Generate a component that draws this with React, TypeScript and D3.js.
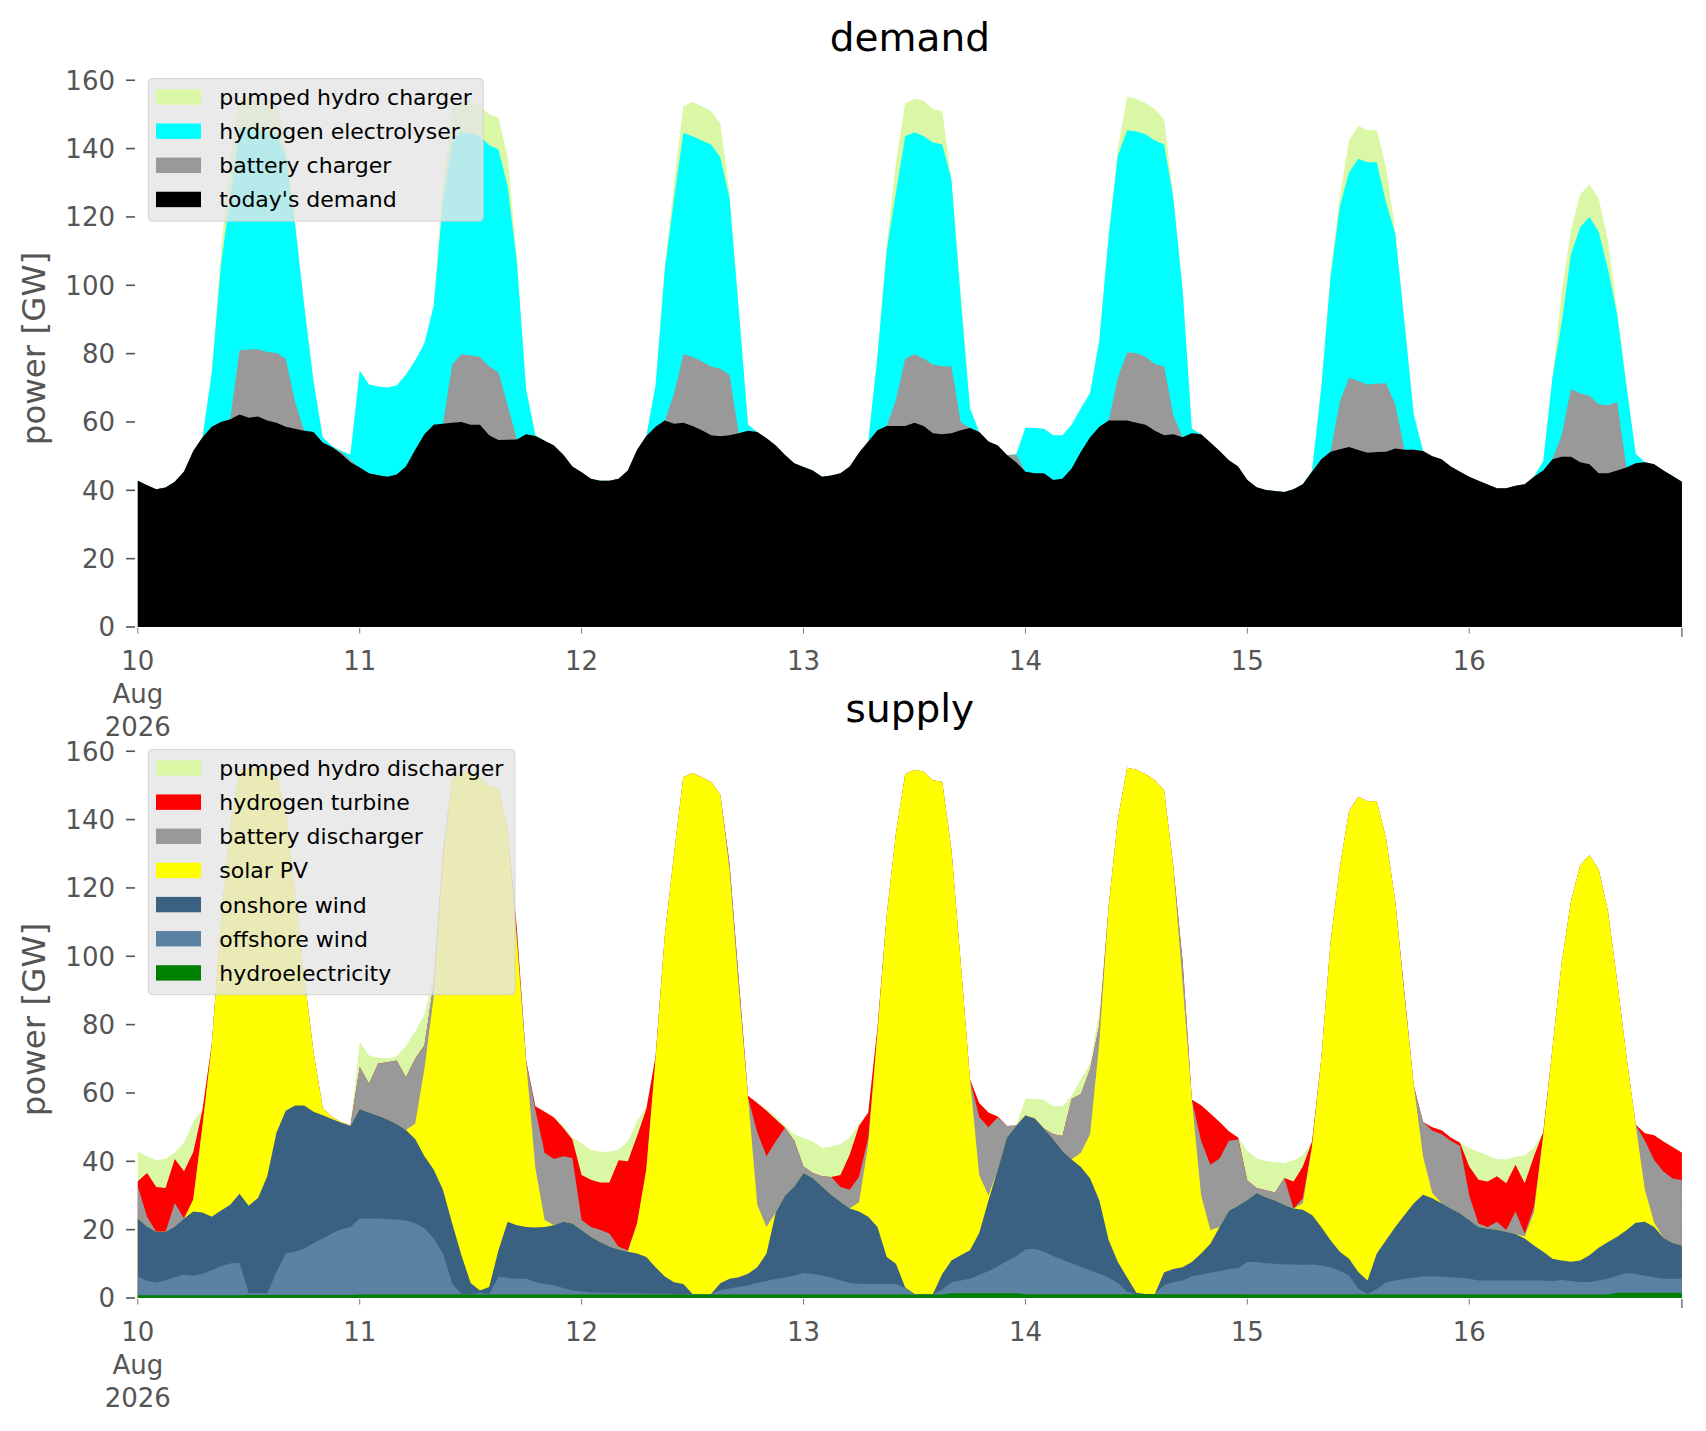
import * as d3 from "d3";

// Hourly values, 10 Aug 2026 00:00 .. 16 Aug 2026 23:00, in GW (one row per day)
const start = new Date(Date.UTC(2026, 7, 10));
const times = d3.utcHour.range(start, d3.utcHour.offset(start, 168));

const yTicks = [0, 20, 40, 60, 80, 100, 120, 140, 160];

// ---- demand side ----
const todaysDemand = [
  42.8, 41.5, 40.3, 40.8, 42.5, 45.5, 51.5, 55.5, 58.6, 60, 60.8, 62.2, 61.2, 61.6, 60.4, 59.8, 58.6, 58, 57.4, 57.1, 54, 52.7, 50.7, 48.2,
  46.7, 45, 44.4, 44, 44.6, 47, 51.9, 56.4, 59.2, 59.5, 59.8, 60, 59.2, 59.2, 56.1, 54.7, 54.8, 54.9, 56.4, 55.9, 54.5, 53.1, 50.5, 47,
  45.3, 43.4, 42.8, 42.8, 43.4, 45.8, 51.9, 55.9, 58.6, 60.4, 59.5, 59.8, 58.8, 57.6, 56.1, 55.8, 56.1, 56.7, 57.4, 57.1, 55.2, 53.1, 50.3, 47.9,
  46.8, 45.8, 44, 44.3, 45, 47, 51, 54.3, 57.6, 58.8, 58.8, 58.8, 59.8, 58.8, 56.7, 56.4, 56.7, 57.6, 58.2, 57.1, 54.3, 53.1, 50.3, 48.2,
  45.4, 45, 45, 43, 43.4, 46.4, 51.3, 55.5, 58.6, 60.4, 60.4, 60.4, 59.8, 59.2, 57.4, 56.1, 56.4, 55.5, 56.7, 56.4, 54, 51.5, 48.8, 47,
  43, 40.9, 40.1, 39.8, 39.5, 40.3, 41.8, 45.4, 49.1, 51.3, 52, 52.7, 51.8, 51, 51.2, 51.3, 52.2, 51.9, 51.9, 51.5, 50, 49.1, 47, 45.4,
  44, 42.8, 41.7, 40.6, 40.6, 41.3, 41.8, 44, 45.8, 49.1, 49.8, 49.8, 48.2, 47.6, 45, 45, 45.8, 46.7, 47.9, 48.2, 47.6, 45.8, 44.2, 42.5,
];

const batteryCharger = [
  0, 0, 0, 0, 0, 0, 0, 0, 0, 0, 0, 18.8, 20, 19.7, 20.1, 20.4, 20, 8, 0, 0, 0, 0, 0.5, 0.6,
  0, 0, 0, 0, 0, 0, 0, 0, 0, 0, 17, 19.8, 20.3, 19.8, 20.1, 19.9, 10.2, 0, 0, 0, 0, 0, 0, 0,
  0, 0, 0, 0, 0, 0, 0, 0, 0, 0, 8.8, 20, 20.2, 20.2, 20.1, 19.8, 17.7, 0, 0, 0, 0, 0, 0, 0,
  0, 0, 0, 0, 0, 0, 0, 0, 0, 0, 7.7, 19.8, 20, 19.8, 20.1, 19.9, 19.5, 2.4, 0, 0, 0, 0, 0, 2.3,
  0, 0, 0, 0, 0, 0, 0, 0, 0, 0, 12.6, 19.9, 20.4, 19.8, 19.6, 20.1, 5.6, 0, 0, 0, 0, 0, 0, 0,
  0, 0, 0, 0, 0, 0, 0, 0, 0, 0, 13.9, 20.2, 20.2, 20, 20, 20, 13, 0, 0, 0, 0, 0, 0, 0,
  0, 0, 0, 0, 0, 0, 0, 0, 0, 0, 6.3, 19.9, 20.1, 20.1, 20.2, 19.9, 20.1, 0, 0, 0, 0, 0, 0, 0,
];

const hydrogenElectrolyser = [
  0, 0, 0, 0, 0, 0, 0, 0, 15.8, 46, 65.2, 65, 64.8, 64.2, 64.5, 63.8, 59.4, 52, 36.6, 14.9, 1.5, 0.3, 0.3, 1.7,
  28.3, 26, 26, 26.1, 26.1, 26.8, 26.1, 26.6, 34.8, 65, 65, 65.2, 65, 64.6, 64.8, 65.1, 64, 51.7, 13.1, 0.2, 0, 0, 0, 0,
  0, 0, 0, 0, 0, 0, 0, 0, 12.1, 44.3, 57.1, 64.8, 64.6, 64.6, 65, 61.9, 51.6, 35.9, 1.8, 0, 0, 0, 0, 0,
  0, 0, 0, 0, 0, 0, 0, 0, 21.6, 51.4, 60.7, 65, 65, 65, 65, 64.9, 54.7, 36, 5.8, 0, 0, 0, 0, 0,
  12.9, 13.2, 13, 13.1, 12.7, 12.8, 12.7, 13, 25.4, 54.1, 65, 65.1, 64.8, 65.2, 65.4, 65, 63.4, 43.2, 1.3, 0, 0, 0, 0, 0,
  0, 0, 0, 0, 0, 0, 0, 0.4, 20.9, 51, 57.1, 60.1, 65, 65, 64.8, 52.9, 49.8, 37.1, 10.3, 0, 0, 0, 0, 0,
  0, 0, 0, 0, 0, 0, 0, 0, 2.7, 23.9, 32.9, 39.3, 48.7, 52.3, 50.5, 39.8, 25.5, 24, 2.8, 0, 0, 0, 0, 0,
];

const pumpedHydroCharger = [
  0, 0, 0, 0, 0, 0, 0, 0, 0, 4, 12, 8.5, 9, 9.5, 9.5, 9, 4, 1, 0, 0, 0, 0, 0, 0,
  0, 0, 0, 0, 0, 0, 0, 0, 0, 5.5, 10.2, 9, 9.5, 8.9, 9, 9.3, 8.5, 1.4, 0, 0, 0, 0, 0, 0,
  0, 0, 0, 0, 0, 0, 0, 0, 0, 1.3, 4.6, 7.8, 10, 10, 9.8, 9.8, 1.6, 0.4, 0, 0, 0, 0, 0, 0,
  0, 0, 0, 0, 0, 0, 0, 0, 0, 1.8, 8.8, 9.7, 9.8, 10.4, 9.7, 9.8, 0.1, 2, 0, 0, 0, 0, 0, 0,
  0, 0, 0, 0, 0, 0, 0, 0, 0, 0, 2, 9.8, 9.6, 9.1, 9.1, 7.3, 0.6, 0, 0, 0, 0, 0, 0, 0,
  0, 0, 0, 0, 0, 0, 0, 0, 0, 1.7, 3, 9.4, 9.7, 9.4, 9.4, 10.3, 1, 0, 0, 0, 0, 0, 0, 0,
  0, 0, 0, 0, 0, 0, 0, 0, 0, 0, 9, 7, 9.6, 9.6, 9.7, 8.5, 1.2, 0, 0, 0, 0, 0, 0, 0,
];

// ---- supply side ----
const hydroelectricity = [
  0.8, 0.8, 0.8, 0.8, 0.8, 0.8, 0.8, 0.8, 0.8, 0.8, 0.8, 0.8, 0.9, 0.9, 0.9, 0.9, 0.9, 0.9, 0.9, 0.9, 0.9, 0.9, 0.9, 0.9,
  1, 1, 1, 1, 1, 1, 1, 1, 1, 1, 1, 1, 1, 1, 1, 1, 1, 1, 1, 1, 1, 1, 1, 1,
  1, 1, 1, 1, 1, 1, 1, 1, 1, 1, 1, 1, 1, 1, 1, 1, 1, 1, 1, 1, 1, 1, 1, 1,
  1, 1, 1, 1, 1, 1, 1, 1, 1, 1, 1, 1, 1, 1, 1, 1, 1.4, 1.4, 1.4, 1.4, 1.4, 1.4, 1.4, 1.4,
  1.1, 1.1, 1.1, 1.1, 1.1, 1.1, 1.1, 1.1, 1.1, 1.1, 1.1, 1.1, 1.1, 1.1, 1.1, 1.1, 1.1, 1.1, 1.1, 1.1, 1.1, 1.1, 1.1, 1.1,
  1, 1, 1, 1, 1, 1, 1, 1, 1, 1, 1, 1, 1, 1, 1, 1, 1, 1, 1, 1, 1, 1, 1, 1,
  1, 1, 1, 1, 1, 1, 1, 1, 1, 1, 1, 1, 1, 1, 1, 1, 1.5, 1.5, 1.5, 1.5, 1.5, 1.5, 1.5, 1.5,
];

const offshoreWind = [
  5.6, 4.2, 3.7, 4.4, 5.3, 6.1, 5.8, 6.3, 7.3, 8.5, 9.3, 9.5, 0.5, 0.5, 0.5, 6.7, 12.1, 12.6, 13.6, 15.1, 16.5, 18, 19.2, 19.8,
  22.3, 22.3, 22.3, 22.1, 22, 21.7, 20.9, 19.4, 16.4, 12, 3.2, 0.2, 0.2, 0.5, 0.2, 5.2, 4.9, 4.6, 4.6, 3.7, 3.1, 2.7, 1.9, 1.2,
  0.9, 0.6, 0.5, 0.5, 0.4, 0.4, 0.4, 0.3, 0.3, 0.3, 0.2, 0.2, 0.2, 0.2, 0.2, 1.2, 1.8, 2.3, 2.7, 3.4, 4, 4.6, 4.9, 5.6,
  6.3, 6, 5.6, 5, 4.2, 3.4, 3.2, 3.1, 3.1, 3.1, 3.1, 1.9, 0.2, 0.2, 0.2, 1.5, 3.2, 3.7, 4.2, 5.4, 6.4, 7.8, 9.4, 10.8,
  13.2, 13.3, 12.4, 11.2, 10.1, 9.1, 8, 7, 6, 4.8, 3.3, 0.7, 0.1, 0.1, 0.1, 2.7, 3.5, 4, 5.3, 5.8, 6.3, 6.8, 7.4, 7.6,
  9.5, 9.5, 9.2, 9, 8.8, 8.8, 8.7, 8.8, 8.5, 8, 7, 5.6, 1.6, 0.2, 1.6, 3.6, 4.1, 4.6, 4.9, 5.3, 5.3, 5.3, 5.1, 4.9,
  4.6, 4.1, 4.1, 4.1, 4.1, 4.1, 4.1, 4.1, 4.1, 4, 4.3, 4, 3.7, 3.7, 4.2, 4.6, 5, 5.8, 5.5, 5, 4.5, 4.1, 4.1, 4.1,
];

const onshoreWind = [
  16.9, 15.9, 14.9, 14.2, 14.8, 16.4, 18.7, 17.9, 15.7, 16.3, 17.2, 20.2, 25.6, 27.9, 34.2, 40.8, 41.8, 42.8, 41.8, 38.5, 36.1, 33.5, 31.2, 29.6,
  32, 31, 30, 29.1, 27.9, 26.5, 24.6, 21.1, 20.2, 18.7, 17.7, 11.3, 3.2, 0.7, 2, 7.7, 16.4, 15.7, 15.2, 15.9, 16.7, 17.6, 19.4, 19.6,
  18, 16.3, 14.9, 13.6, 12.8, 12.1, 11.6, 10.7, 7.7, 5, 3.4, 2.9, 0, 0, 0, 2.1, 2.8, 2.8, 3.4, 4.6, 8, 19.4, 24.1, 26,
  29.3, 28.1, 26, 24.2, 23, 21.8, 21.1, 19.7, 16.7, 7.9, 5.9, 0.2, 0, 0, 0, 4.5, 6.4, 7.4, 8.4, 12.2, 20.7, 28.3, 36.2, 38.1,
  39.1, 38.1, 36.1, 34.2, 31.8, 30.3, 29.2, 26.9, 21.4, 11.1, 6.1, 4.2, 0.3, 0, 0, 3.7, 3.9, 3.9, 4.1, 6.1, 8.5, 12.9, 17, 18.3,
  18.2, 20.2, 19.3, 18.5, 17.4, 16.4, 16.1, 14.5, 11.3, 7.9, 5.5, 4.9, 5, 3.9, 10.4, 12.3, 15.7, 18.7, 21.8, 23.9, 22.9, 21.4, 20.1, 18.9,
  17.2, 15.7, 15.2, 14.9, 14.3, 13.6, 12.3, 10.3, 8.4, 6.5, 5.7, 5.6, 6.3, 7.8, 9.5, 10.8, 11.4, 12.5, 15, 15.8, 14.8, 12, 10.5, 9.8,
];

const solarPV = [
  0, 0, 0, 0, 0, 0, 3.5, 25.4, 50.2, 84.4, 110.7, 124, 128, 125.7, 118.9, 104.6, 87.2, 62.7, 37.7, 17.5, 2, 0.6, 0.2, 0,
  0, 0, 0, 0, 0, 0, 4.5, 25.5, 50.4, 96.3, 130.1, 141.5, 149.6, 150.3, 146.8, 135.1, 115.2, 82.7, 48.2, 17.4, 2, 0, 0, 0,
  0, 0, 0, 0, 0, 0, 8.8, 25.6, 61, 99.7, 125.4, 148.3, 152.4, 151.2, 149.8, 143, 119.4, 83.9, 51.6, 18.2, 7.8, 0, 0, 0,
  0, 0, 0, 0, 0, 0, 2.7, 21.2, 57, 100, 126, 150.2, 153.4, 152.8, 150.3, 144, 120, 85.5, 50, 17, 1.5, 0, 0, 0,
  0, 0, 0, 0, 0, 0, 4.2, 13, 46.5, 97.5, 129.5, 149.2, 153.1, 152.1, 150.3, 141, 117.5, 83, 47.5, 17, 4, 0, 0, 0,
  0, 0, 0, 0, 0, 0, 1.9, 20.1, 49.2, 87.1, 112.5, 130.9, 139.1, 140.3, 132.4, 117.6, 95.2, 63.7, 34.5, 11.3, 1.5, 0, 0, 0,
  0, 0, 0, 0, 0, 0, 0.6, 9.6, 33.9, 61.5, 87, 105.4, 115.6, 117.1, 110.7, 96.8, 74.7, 50.9, 28.7, 9.3, 1.2, 0, 0, 0,
];

const batteryDischarger = [
  9.4, 2.9, 0, 0, 6.9, 0, 0, 0, 0, 0, 0, 0, 0, 0, 0, 0, 0, 0, 0, 0, 0, 0, 0, 0.2,
  12.3, 8.4, 15.3, 16.8, 18.6, 15.4, 19, 7, 4, 2, 0, 0, 0, 0, 0, 0, 0, 2, 0.5, 17, 19.7, 19.4, 19.2, 19.2,
  2.9, 2.9, 3.6, 3.8, 0.8, 0.5, 0, 0, 0, 0, 0, 0, 0, 0, 0, 0, 2, 3, 0, 21.2, 20.7, 20.9, 19.8, 13.4,
  1.9, 1.5, 3, 5.2, 4.3, 5.5, 7.5, 2, 0, 0, 0, 0, 0, 0, 0, 0, 0, 0, 0, 17, 20, 15.3, 3.3, 0.2,
  0, 0, 0, 1.5, 4.4, 17.7, 17.2, 19, 5, 0, 0, 0, 0, 0, 0, 0, 0, 6.7, 0, 16, 19.1, 20, 20.5, 19.4,
  5.7, 1.5, 2, 2.4, 7.9, 0, 1.5, 0, 0, 0, 0, 0, 0, 0, 0, 0, 0, 1, 0, 10, 18.3, 20.3, 19.8, 19.7,
  7.2, 1, 0.5, 2.3, 0.5, 6.6, 0.9, 1.7, 0, 0, 0, 0, 0, 0, 0, 0, 0, 0, 0, 14.4, 18.4, 19.4, 18.9, 19.1,
];

const hydrogenTurbine = [
  1.5, 12.8, 13.1, 12.8, 12.9, 13.8, 13.9, 4.6, 0.4, 0, 0, 0, 0, 0, 0, 0, 0, 0, 0, 0, 0, 0, 0, 0,
  0, 0, 0, 0, 0, 0, 0, 0, 0, 0, 0, 0, 0, 0, 0, 0, 0, 2, 0, 1.1, 12, 12.1, 8.3, 5.4,
  13.2, 13.8, 13.8, 14.9, 25.3, 26, 25.6, 17.7, 0.7, 0, 0, 0, 0, 0, 0, 0, 0, 0, 0.5, 8.7, 13.3, 6.4, 0, 0,
  0, 0, 0, 0, 3.5, 10.3, 14.8, 7.3, 1.4, 0, 0, 0, 0, 0, 0, 0, 0, 0, 0, 4.1, 4.3, 0.3, 0, 0,
  0, 0, 0, 0, 0, 0, 0, 0, 0, 0, 0, 0, 0, 0, 0, 0, 0, 0, 0, 10.4, 15, 10.7, 2.8, 0.6,
  0, 0, 0, 0, 0, 7.9, 9.3, 1.4, 0, 0, 0, 0, 0, 0, 0, 0, 0, 0, 0, 0, 1, 1.1, 1, 0.9,
  8.5, 12.8, 13.3, 13.3, 13.7, 13.7, 14.7, 14.8, 1.1, 0, 0, 0, 0, 0, 0, 0, 0, 0, 0, 2.2, 7.2, 8.8, 9.2, 8,
];

const pumpedHydroDischarger = [
  8.6, 4.9, 7.8, 8.6, 1.8, 8.4, 8.8, 0.5, 0, 0, 0, 0, 0, 0, 0, 0, 0, 0, 0, 0, 0, 0, 0, 0,
  7.4, 8.3, 1.8, 1.1, 1.2, 9.2, 8, 9, 2, 0, 0, 0, 0, 0, 0, 0, 0, 0, 0, 0, 0, 0.3, 0.7, 0.6,
  9.3, 8.8, 9, 9, 3.1, 5.8, 4.5, 0.6, 0, 0, 0, 0, 0, 0, 0, 0, 0, 0, 0, 0, 0.4, 0.8, 0.5, 1.9,
  8.3, 9.2, 8.4, 8.9, 9, 5, 0.7, 0, 0, 0, 0, 0, 0, 0, 0, 0, 0, 0, 0, 0, 0, 0, 0, 0,
  4.9, 5.7, 8.4, 8.1, 8.7, 1, 4.3, 1.5, 4, 0, 0, 0, 0, 0, 0, 0, 0, 0, 0, 0, 0, 0, 0, 0,
  8.6, 8.7, 8.6, 8.9, 4.4, 6.2, 3.3, 0, 0, 0, 0, 0, 0, 0, 0, 0, 0, 0, 0, 0, 0, 0, 0, 0,
  5.5, 8.2, 7.6, 5, 7, 2.3, 8.2, 2.5, 0, 0, 0, 0, 0, 0, 0, 0, 0, 0, 0, 0, 0, 0, 0, 0,
];

type Layer = { key: string; label: string; color: string; values: number[] };

// stacking order: bottom first
const demandLayers: Layer[] = [
  { key: "demand", label: "today's demand", color: "#000000", values: todaysDemand },
  { key: "battery", label: "battery charger", color: "#999999", values: batteryCharger },
  { key: "electrolyser", label: "hydrogen electrolyser", color: "#00ffff", values: hydrogenElectrolyser },
  { key: "pumped", label: "pumped hydro charger", color: "#daf7a6", values: pumpedHydroCharger },
];

const supplyLayers: Layer[] = [
  { key: "hydro", label: "hydroelectricity", color: "#008000", values: hydroelectricity },
  { key: "offshore", label: "offshore wind", color: "#5b82a3", values: offshoreWind },
  { key: "onshore", label: "onshore wind", color: "#3b6182", values: onshoreWind },
  { key: "solar", label: "solar PV", color: "#ffff00", values: solarPV },
  { key: "battery", label: "battery discharger", color: "#999999", values: batteryDischarger },
  { key: "turbine", label: "hydrogen turbine", color: "#ff0000", values: hydrogenTurbine },
  { key: "pumped", label: "pumped hydro discharger", color: "#daf7a6", values: pumpedHydroDischarger },
];

const W = 1706;
const H = 1431;
const FONT = "DejaVu Sans, Verdana, sans-serif";
const PLOT_H = 557;
const Y_MAX = 163;

const x = d3.scaleUtc().domain([times[0], times[times.length - 1]]).range([137.8, 1681.9]);
const days = d3.utcDay.range(start, d3.utcDay.offset(start, 7));

type Row = Record<string, number>;

function Panel({ top, title, layers, legendWidth }: { top: number; title: string; layers: Layer[]; legendWidth: number }) {
  const base = top + PLOT_H;
  const y = d3.scaleLinear().domain([0, Y_MAX]).range([base, top]);

  const rows: Row[] = times.map((_, i) => {
    const r: Row = {};
    layers.forEach((l) => (r[l.key] = l.values[i] ?? 0));
    return r;
  });
  const stacked = d3.stack<Row>().keys(layers.map((l) => l.key))(rows);
  const area = d3
    .area<d3.SeriesPoint<Row>>()
    .x((_, i) => x(times[i]))
    .y0(base)
    .y1((d) => y(d[1]));

  const legendX = 148.3;
  const legendY = top + 8.5;
  const rowStep = 34.15;
  const legendItems = [...layers].reverse();
  const legendH = 18.5 + (legendItems.length - 1) * rowStep + 21.8;
  const fmtDay = d3.utcFormat("%-d");

  return (
    <g>
      {/* layers drawn from the top of the stack down, each from zero */}
      {stacked
        .slice()
        .reverse()
        .map((s, i) => (
          <path key={s.key} d={area(s) ?? ""} fill={layers[layers.length - 1 - i].color} stroke="none" />
        ))}

      {/* y axis */}
      {yTicks.map((t) => (
        <g key={t}>
          <line x1={126} x2={135} y1={y(t)} y2={y(t)} stroke="#555555" strokeWidth={1.6} />
          <text x={115} y={y(t)} dy="0.36em" textAnchor="end" fontSize={26} fill="#555555" fontFamily={FONT}>
            {t}
          </text>
        </g>
      ))}
      <text
        transform={`translate(45,${top + PLOT_H / 2}) rotate(-90)`}
        textAnchor="middle"
        fontSize={32.5}
        fill="#555555"
        fontFamily={FONT}
      >
        power [GW]
      </text>

      {/* x axis */}
      {days.map((d, i) => (
        <g key={d.getTime()}>
          <line x1={x(d)} x2={x(d)} y1={base + 1} y2={base + 6.5} stroke="#777777" strokeWidth={1} />
          <text x={x(d)} y={base + 43} textAnchor="middle" fontSize={26} fill="#555555" fontFamily={FONT}>
            {fmtDay(d)}
          </text>
          {i === 0 && (
            <>
              <text x={x(d)} y={base + 76} textAnchor="middle" fontSize={26} fill="#555555" fontFamily={FONT}>
                {d3.utcFormat("%b")(d)}
              </text>
              <text x={x(d)} y={base + 109} textAnchor="middle" fontSize={26} fill="#555555" fontFamily={FONT}>
                {d3.utcFormat("%Y")(d)}
              </text>
            </>
          )}
        </g>
      ))}
      <line
        x1={x(times[times.length - 1])}
        x2={x(times[times.length - 1])}
        y1={base + 1}
        y2={base + 10}
        stroke="#555555"
        strokeWidth={1.2}
      />

      <text x={(137.8 + 1681.9) / 2} y={top - 19} textAnchor="middle" fontSize={39} fill="#000000" fontFamily={FONT}>
        {title}
      </text>

      {/* legend */}
      <rect
        x={legendX}
        y={legendY}
        width={legendWidth}
        height={legendH}
        rx={4}
        fill="#e5e5e5"
        fillOpacity={0.8}
        stroke="#cccccc"
        strokeOpacity={0.8}
        strokeWidth={1}
      />
      {legendItems.map((l, i) => {
        const cy = legendY + 18.5 + i * rowStep;
        return (
          <g key={l.key}>
            <rect x={156} y={cy - 7.7} width={45} height={15.4} fill={l.color} />
            <text x={219.3} y={cy} dy="0.36em" fontSize={22} fill="#000000" fontFamily={FONT}>
              {l.label}
            </text>
          </g>
        );
      })}
    </g>
  );
}

export default function App() {
  return (
    <div style={{ position: "absolute", left: 0, top: 0, width: W, height: H, background: "#ffffff" }}>
      <svg width={W} height={H} viewBox={`0 0 ${W} ${H}`} style={{ display: "block" }}>
        <rect width={W} height={H} fill="#ffffff" />
        <Panel top={70} title="demand" layers={demandLayers} legendWidth={335} />
        <Panel top={741} title="supply" layers={supplyLayers} legendWidth={366.7} />
      </svg>
    </div>
  );
}
